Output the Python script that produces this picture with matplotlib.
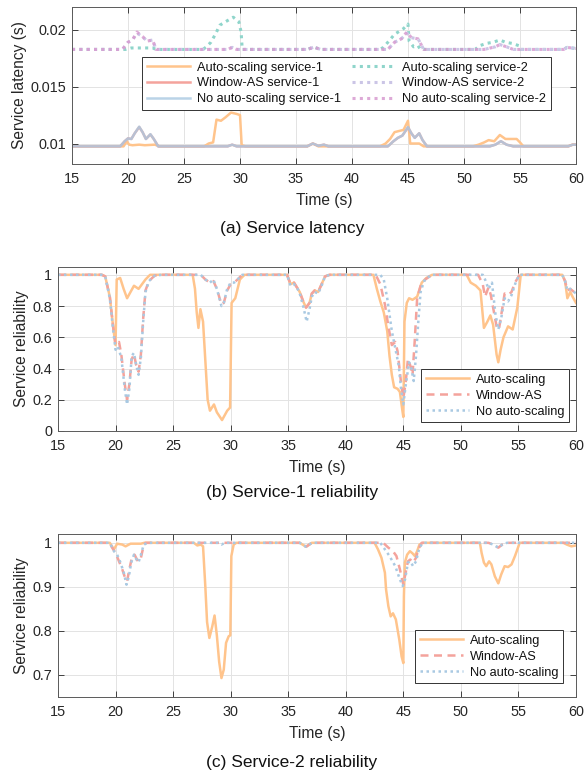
import matplotlib
matplotlib.use("Agg")
import matplotlib.pyplot as plt

plt.rcParams["font.family"] = ["Liberation Sans", "DejaVu Sans"]

# ---- (a) service latency --------------------------------------------------
lat1_auto_t = [15, 19.6, 19.9, 20.1, 20.4, 21.0, 21.5, 22.4, 22.8,
               26.8, 27.2, 27.6, 27.9, 28.3, 28.7, 29.2, 29.7, 30.0, 30.15, 30.5,
               36.0, 36.5, 37.0,
               42.5, 43.0, 43.4, 43.8, 44.2, 44.6, 45.0, 45.2, 45.6, 46.0, 46.4,
               50.8, 51.3, 51.8, 52.2, 52.7, 53.2, 53.7, 54.0, 54.7, 55.0, 55.3,
               59.3, 59.7, 60]
lat1_auto_v = [0.00975, 0.00975, 0.0102, 0.0099, 0.00985, 0.0099, 0.00985, 0.0099, 0.00975,
               0.00975, 0.0100, 0.0101, 0.0121, 0.0120, 0.0123, 0.01272, 0.0126, 0.0125, 0.00985, 0.00975,
               0.00975, 0.0100, 0.00975,
               0.00975, 0.0100, 0.0104, 0.0110, 0.0111, 0.0112, 0.0120, 0.0100, 0.0100, 0.0100, 0.00975,
               0.00975, 0.0099, 0.0101, 0.0103, 0.0102, 0.01075, 0.0104, 0.0104, 0.0104, 0.0101, 0.00975,
               0.00975, 0.0099, 0.0099]

lat1_win_t = [15, 19.3, 19.7, 20.0, 20.3, 20.6, 21.0, 21.3, 21.6, 22.0, 22.3, 22.7,
              28.9, 29.3, 29.7,
              36.0, 36.5, 37.0, 37.5, 37.9,
              43.2, 43.7, 44.1, 44.5, 45.0, 45.3, 45.6, 46.0, 46.3, 46.7,
              52.3, 52.8, 53.3, 53.8, 54.4,
              59.3, 59.7, 60]
lat1_win_v = [0.00975, 0.00975, 0.0102, 0.01045, 0.0104, 0.0109, 0.01145, 0.0110, 0.0104, 0.0108, 0.0104, 0.00975,
              0.00975, 0.0099, 0.00975,
              0.00975, 0.0100, 0.0098, 0.0099, 0.00975,
              0.00975, 0.0102, 0.0105, 0.0107, 0.01142, 0.0109, 0.0105, 0.0109, 0.0103, 0.00975,
              0.00975, 0.0099, 0.0102, 0.0099, 0.00975,
              0.00975, 0.0099, 0.0099]

lat1_noas_t = [15, 19.3, 19.7, 20.0, 20.3, 20.6, 21.0, 21.3, 21.6, 22.0, 22.3, 22.7,
               28.9, 29.3, 29.7,
               36.0, 36.5, 37.0, 37.5, 37.9,
               43.2, 43.7, 44.1, 44.5, 45.0, 45.3, 45.6, 46.0, 46.3, 46.7,
               52.3, 52.8, 53.3, 53.8, 54.4,
               59.3, 59.7, 60]
lat1_noas_v = [0.00975, 0.00975, 0.0102, 0.01045, 0.0104, 0.0109, 0.01148, 0.0110, 0.0104, 0.01082, 0.0104, 0.00975,
               0.00975, 0.0099, 0.00975,
               0.00975, 0.0100, 0.0098, 0.0099, 0.00975,
               0.00975, 0.0102, 0.0105, 0.0107, 0.01145, 0.0109, 0.0105, 0.0109, 0.0103, 0.00975,
               0.00975, 0.0099, 0.0102, 0.0099, 0.00975,
               0.00975, 0.0099, 0.0099]

lat2_auto_t = [15, 19.8, 20.3, 21.5, 22.2, 22.5,
               26.7, 27.0, 27.4, 27.8, 28.2, 28.7, 29.4, 29.9, 30.1, 30.2,
               36.0, 36.6, 37.2,
               42.5, 42.8, 43.2, 43.8, 44.6, 45.0, 45.1, 45.5, 45.9, 46.1,
               51.0, 51.4, 52.0, 52.6, 53.2, 53.7, 54.3, 54.9, 55.1,
               58.9, 59.2, 60]
lat2_auto_v = [0.01827, 0.01827, 0.0184, 0.0184, 0.0184, 0.01827,
               0.01827, 0.0185, 0.0189, 0.0196, 0.0204, 0.0207, 0.0211, 0.0207, 0.0198, 0.01827,
               0.01827, 0.01847, 0.01827,
               0.01827, 0.01845, 0.0189, 0.0196, 0.0201, 0.0205, 0.0190, 0.0185, 0.0186, 0.01827,
               0.01827, 0.0186, 0.0188, 0.0189, 0.0191, 0.0189, 0.0188, 0.0186, 0.01827,
               0.01827, 0.01845, 0.01835]

lat2_win_t = [15, 19.5, 20.0, 20.4, 20.8, 21.3, 21.7, 22.2, 22.5,
              28.9, 29.3, 29.7,
              36.0, 36.6, 37.2,
              43.2, 43.8, 44.4, 44.9, 45.3, 45.9, 46.4,
              51.8, 52.8, 53.2, 53.8, 54.4,
              58.9, 59.2, 60]
lat2_win_v = [0.01827, 0.01827, 0.0189, 0.0191, 0.0197, 0.0194, 0.0190, 0.0191, 0.01827,
              0.01827, 0.01845, 0.01827,
              0.01827, 0.01847, 0.01827,
              0.01827, 0.0189, 0.0192, 0.0197, 0.0193, 0.0192, 0.01827,
              0.01827, 0.0185, 0.0187, 0.0185, 0.01827,
              0.01827, 0.01845, 0.01835]

lat2_noas_t = [15, 19.5, 20.0, 20.4, 20.8, 21.3, 21.7, 22.2, 22.5,
               28.9, 29.3, 29.7,
               36.0, 36.6, 37.2,
               43.2, 43.8, 44.4, 44.9, 45.3, 45.9, 46.4,
               51.8, 52.8, 53.2, 53.8, 54.4,
               58.9, 59.2, 60]
lat2_noas_v = [0.01827, 0.01827, 0.0189, 0.0191, 0.0198, 0.0194, 0.0190, 0.0191, 0.01827,
               0.01827, 0.01845, 0.01827,
               0.01827, 0.01847, 0.01827,
               0.01827, 0.0189, 0.0192, 0.0198, 0.0193, 0.0192, 0.01827,
               0.01827, 0.0185, 0.0187, 0.0185, 0.01827,
               0.01827, 0.01845, 0.01835]

# ---- (b) service-1 reliability --------------------------------------------
rel1_auto_t = [15, 18.8, 19.1, 19.5, 19.8, 20.0, 20.1, 20.4, 20.7, 21.0, 21.3, 21.6, 22.0, 22.3, 22.6, 23.0,
               26.7, 26.9, 27.05, 27.2, 27.37, 27.6, 27.8, 28.0, 28.2, 28.55, 28.8, 29.25, 29.7, 29.95,
               30.08, 30.4, 30.8, 31.2,
               34.9, 35.2, 35.5, 35.75, 36.0, 36.3, 36.55, 36.85, 37.05, 37.3, 37.6, 37.9, 38.2, 38.6,
               42.4, 42.7, 43.0, 43.3, 43.6, 43.8, 44.0, 44.2, 44.5, 44.7, 44.9, 45.0, 45.1, 45.3, 45.5,
               45.8, 46.2, 46.6, 47.0, 47.5,
               50.5, 50.85, 51.3, 51.7, 52.0, 52.3, 52.56, 52.8, 53.1, 53.25, 53.45, 53.7, 54.1, 54.5,
               54.9, 55.2,
               58.8, 59.05, 59.25, 59.5, 59.7, 60]
rel1_auto_v = [1, 1, 0.99, 0.86, 0.66, 0.55, 0.97, 0.98, 0.91, 0.85, 0.89, 0.93, 0.91, 0.94, 0.97, 1,
               1, 0.91, 0.76, 0.66, 0.78, 0.70, 0.45, 0.20, 0.13, 0.17, 0.12, 0.07, 0.13, 0.15,
               0.82, 0.85, 0.97, 1,
               1, 0.94, 0.95, 0.92, 0.89, 0.83, 0.79, 0.82, 0.88, 0.90, 0.89, 0.94, 0.99, 1,
               1, 0.91, 0.83, 0.76, 0.64, 0.48, 0.36, 0.28, 0.27, 0.25, 0.14, 0.09, 0.70, 0.82, 0.85,
               0.84, 0.86, 0.95, 0.98, 1,
               1, 0.95, 0.93, 0.90, 0.66, 0.70, 0.74, 0.68, 0.49, 0.44, 0.52, 0.60, 0.67, 0.65,
               0.79, 1,
               1, 0.96, 0.85, 0.89, 0.86, 0.82]

rel1_win_t = [15, 18.8, 19.1, 19.5, 19.8, 20.0, 20.3, 20.5, 20.8, 21.0, 21.2, 21.4, 21.6, 21.8, 22.0, 22.2,
              22.4, 22.6, 22.9, 23.4, 24.0,
              27.4, 27.8, 28.2, 28.5, 28.8, 29.2, 29.4, 29.7, 30.0, 30.3, 30.6, 31.0,
              34.9, 35.2, 35.5, 35.75, 36.0, 36.3, 36.55, 36.85, 37.05, 37.3, 37.6, 37.9, 38.2, 38.6,
              42.6, 43.0, 43.4, 43.7, 44.0, 44.3, 44.5, 44.8, 45.0, 45.2, 45.4, 45.6, 45.8, 46.0, 46.2,
              46.5, 46.9, 47.5,
              51.5, 51.9, 52.1, 52.4, 52.6, 52.8, 53.1, 53.3, 53.5, 53.8, 54.1, 54.4, 54.7, 55.1,
              58.8, 59.05, 59.25, 59.5, 60]
rel1_win_v = [1, 1, 0.99, 0.86, 0.66, 0.55, 0.57, 0.49, 0.30, 0.20, 0.30, 0.46, 0.49, 0.42, 0.38, 0.49,
              0.72, 0.90, 0.96, 0.995, 1,
              1, 0.97, 0.95, 0.96, 0.91, 0.81, 0.82, 0.90, 0.94, 0.95, 0.97, 1,
              1, 0.94, 0.95, 0.92, 0.89, 0.83, 0.79, 0.82, 0.88, 0.90, 0.89, 0.94, 0.99, 1,
              1, 0.94, 0.81, 0.67, 0.55, 0.57, 0.51, 0.31, 0.21, 0.31, 0.46, 0.42, 0.36, 0.59, 0.85,
              0.93, 0.97, 1,
              1, 0.94, 0.86, 0.92, 0.87, 0.79, 0.67, 0.65, 0.74, 0.88, 0.87, 0.89, 0.95, 1,
              1, 0.96, 0.90, 0.91, 0.88]

rel1_noas_t = [15, 18.8, 19.1, 19.5, 19.8, 20.0, 20.2, 20.5, 20.8, 21.0, 21.2, 21.4, 21.6, 21.8, 22.0, 22.2,
               22.4, 22.6, 22.9, 23.4, 24.0,
               27.4, 27.8, 28.2, 28.5, 28.8, 29.2, 29.4, 29.7, 30.0, 30.3, 30.6, 31.0,
               34.9, 35.2, 35.5, 35.75, 36.0, 36.3, 36.6, 36.85, 37.05, 37.3, 37.6, 37.9, 38.2, 38.6,
               43.0, 43.3, 43.6, 44.0, 44.3, 44.6, 44.8, 45.0, 45.2, 45.5, 45.7, 45.9, 46.1, 46.3, 46.5,
               46.8, 47.4,
               51.9, 52.1, 52.4, 52.7, 53.0, 53.25, 53.5, 53.8, 54.1, 54.4, 54.8, 55.1,
               58.8, 59.05, 59.25, 59.5, 60]
rel1_noas_v = [1, 1, 0.99, 0.85, 0.64, 0.52, 0.54, 0.47, 0.27, 0.17, 0.27, 0.48, 0.50, 0.42, 0.36, 0.47,
               0.70, 0.89, 0.96, 0.995, 1,
               1, 0.97, 0.95, 0.97, 0.91, 0.80, 0.82, 0.91, 0.95, 0.95, 0.97, 1,
               1, 0.93, 0.94, 0.92, 0.88, 0.80, 0.70, 0.78, 0.86, 0.89, 0.88, 0.93, 0.99, 1,
               1, 0.97, 0.85, 0.64, 0.53, 0.42, 0.27, 0.17, 0.29, 0.44, 0.40, 0.32, 0.48, 0.70, 0.89,
               0.96, 1,
               1, 0.97, 0.91, 0.95, 0.75, 0.65, 0.72, 0.85, 0.83, 0.87, 0.96, 1,
               1, 0.96, 0.90, 0.91, 0.88]

# ---- (c) service-2 reliability --------------------------------------------
rel2_auto_t = [15, 19.5, 19.86, 20.14, 20.58, 20.87, 21.3, 22.2, 22.5,
               26.8, 27.1, 27.4, 27.6, 27.8, 27.95, 28.15, 28.4, 28.6, 28.8, 29.0, 29.2, 29.4, 29.6,
               29.83, 29.97, 30.06, 30.26, 30.5,
               36.0, 36.55, 37.05,
               42.5, 42.8, 43.1, 43.4, 43.5, 43.7, 43.9, 44.1, 44.35, 44.65, 44.85, 45.0, 45.05, 45.13,
               45.33, 45.57, 45.8, 46.0, 46.2, 46.4, 46.7,
               51.65, 51.8, 52.0, 52.2, 52.45, 52.65, 52.95, 53.25, 53.5, 53.8, 54.1, 54.4, 54.7, 55.0, 55.1,
               58.9, 59.2, 59.6, 60]
rel2_auto_v = [1, 1, 0.985, 0.998, 0.996, 0.992, 0.998, 0.998, 1,
               1, 0.994, 0.996, 0.992, 0.90, 0.82, 0.784, 0.81, 0.835, 0.79, 0.73, 0.693, 0.712, 0.773,
               0.788, 0.79, 0.97, 0.996, 1,
               1, 0.991, 1,
               1, 0.985, 0.966, 0.932, 0.894, 0.856, 0.833, 0.84, 0.826, 0.78, 0.742, 0.727, 0.879, 0.955,
               0.973, 0.981, 0.976, 0.97, 0.981, 0.996, 1,
               1, 0.977, 0.955, 0.947, 0.958, 0.951, 0.924, 0.908, 0.928, 0.947, 0.945, 0.951, 0.97, 0.992, 1,
               1, 0.996, 0.992, 0.994]

rel2_win_t = [15, 19.5, 19.7, 20.0, 20.3, 20.58, 20.87, 21.0, 21.2, 21.45, 21.65, 21.94, 22.17, 22.4, 22.6,
              36.0, 36.55, 37.05,
              43.25, 43.7, 44.1, 44.4, 44.7, 45.0, 45.2, 45.4, 45.6, 45.85, 46.1, 46.3, 46.6,
              52.4, 52.8, 53.25, 53.6, 54.0,
              60]
rel2_win_v = [1, 1, 0.989, 0.977, 0.958, 0.94, 0.917, 0.913, 0.94, 0.97, 0.973, 0.958, 0.962, 0.989, 1,
              1, 0.991, 1,
              1, 0.989, 0.981, 0.97, 0.94, 0.905, 0.932, 0.958, 0.962, 0.955, 0.966, 0.985, 1,
              1, 0.996, 0.989, 0.996, 1,
              1]

rel2_noas_t = [15, 19.5, 19.86, 20.14, 20.43, 20.72, 20.95, 21.16, 21.36, 21.6, 21.82, 22.0, 22.2, 22.45, 22.8,
               28.9, 29.2, 29.5,
               36.0, 36.55, 37.05,
               43.0, 43.4, 43.8, 44.3, 44.7, 44.95, 45.15, 45.4, 45.6, 45.85, 46.1, 46.4, 46.7,
               52.4, 52.8, 53.25, 53.6, 54.0,
               60]
rel2_noas_v = [1, 1, 0.981, 0.973, 0.955, 0.932, 0.905, 0.924, 0.955, 0.973, 0.962, 0.956, 0.973, 0.996, 1,
               1, 0.996, 1,
               1, 0.991, 1,
               1, 0.985, 0.97, 0.947, 0.917, 0.902, 0.917, 0.955, 0.958, 0.947, 0.958, 0.989, 1,
               1, 0.996, 0.989, 0.996, 1,
               1]

X_TICKS = [15, 20, 25, 30, 35, 40, 45, 50, 55, 60]

C_AUTO = "#FFC48C"
C_WIN = "#F4A39C"
C_NOAS = "#A9C9E2"
C_AUTO2 = "#8FD5CB"
C_WIN2 = "#CBC5E6"
C_NOAS2 = "#D79BD0"
DARK = "#262626"
GRID = "#E3E3E3"

DOT = (0, (1.0, 1.4))
DASH = (0, (3.2, 2.2))


def style(ax, yticks, ylim, ylabel):
    ax.set_xlim(15, 60)
    ax.set_ylim(*ylim)
    ax.set_xticks(X_TICKS)
    ax.set_yticks(yticks)
    ax.grid(True, color=GRID, linewidth=0.7)
    ax.set_axisbelow(True)
    ax.tick_params(direction="in", top=True, right=True, length=4,
                   width=0.6, colors=DARK, labelsize=10.4)
    ax.tick_params(axis="x", pad=6)
    ax.tick_params(axis="y", pad=4)
    for s in ax.spines.values():
        s.set_color("#5a5a5a")
        s.set_linewidth(0.7)
    ax.set_xlabel("Time (s)", fontsize=11.2, color=DARK, labelpad=5)
    ax.set_ylabel(ylabel, fontsize=11.2, color=DARK, labelpad=3)


def legend(ax, **kw):
    leg = ax.legend(fontsize=9.2, handlelength=3.4, handletextpad=0.5,
                    labelspacing=0.3, borderpad=0.35, fancybox=False,
                    framealpha=1, edgecolor="#333333", **kw)
    leg.get_frame().set_linewidth(0.7)
    for txt in leg.get_texts():
        txt.set_color("#111111")
    return leg


fig = plt.figure(figsize=(5.84, 7.75), dpi=100)

# (a)
ax = fig.add_axes([72 / 584, 1 - 164 / 775, 504 / 584, 157 / 775])
ax.plot(lat1_auto_t, lat1_auto_v, color=C_AUTO, lw=1.8, label="Auto-scaling service-1")
ax.plot(lat1_win_t, lat1_win_v, color=C_WIN, lw=1.8, label="Window-AS service-1")
ax.plot(lat1_noas_t, lat1_noas_v, color=C_NOAS, lw=1.8, alpha=0.8, label="No auto-scaling service-1")
ax.plot(lat2_auto_t, lat2_auto_v, color=C_AUTO2, lw=2.2, ls=DOT, label="Auto-scaling service-2")
ax.plot(lat2_win_t, lat2_win_v, color=C_WIN2, lw=2.2, ls=DOT, label="Window-AS service-2")
ax.plot(lat2_noas_t, lat2_noas_v, color=C_NOAS2, lw=2.2, ls=DOT, alpha=0.85, label="No auto-scaling service-2")
style(ax, [0.01, 0.015, 0.02], (0.0082, 0.022), "Service latency (s)")
ax.set_yticklabels(["0.01", "0.015", "0.02"])
legend(ax, ncol=2, loc="upper left", bbox_to_anchor=(0.127, 0.722), columnspacing=0.9)
fig.text(0.5, 1 - 228 / 775, "(a) Service latency", ha="center", va="center", fontsize=12.5, color="#111111")

# (b)
ax = fig.add_axes([58 / 584, 1 - 431 / 775, 518 / 584, 164 / 775])
ax.plot(rel1_auto_t, rel1_auto_v, color=C_AUTO, lw=1.8, label="Auto-scaling")
ax.plot(rel1_win_t, rel1_win_v, color=C_WIN, lw=1.8, ls=DASH, label="Window-AS")
ax.plot(rel1_noas_t, rel1_noas_v, color=C_NOAS, lw=1.8, ls=DOT, label="No auto-scaling")
style(ax, [0, 0.2, 0.4, 0.6, 0.8, 1], (0, 1.05), "Service reliability")
ax.set_yticklabels(["0", "0.2", "0.4", "0.6", "0.8", "1"])
legend(ax, loc="lower right", bbox_to_anchor=(0.986, 0.055), borderaxespad=0)
fig.text(0.5, 1 - 492 / 775, "(b) Service-1 reliability", ha="center", va="center", fontsize=12.5, color="#111111")

# (c)
ax = fig.add_axes([58 / 584, 1 - 697 / 775, 518 / 584, 163 / 775])
ax.plot(rel2_auto_t, rel2_auto_v, color=C_AUTO, lw=1.8, label="Auto-scaling")
ax.plot(rel2_win_t, rel2_win_v, color=C_WIN, lw=1.8, ls=DASH, label="Window-AS")
ax.plot(rel2_noas_t, rel2_noas_v, color=C_NOAS, lw=1.8, ls=DOT, label="No auto-scaling")
style(ax, [0.7, 0.8, 0.9, 1], (0.65, 1.02), "Service reliability")
ax.set_yticklabels(["0.7", "0.8", "0.9", "1"])
legend(ax, loc="lower right", bbox_to_anchor=(0.974, 0.086), borderaxespad=0)
fig.text(0.5, 1 - 762 / 775, "(c) Service-2 reliability", ha="center", va="center", fontsize=12.5, color="#111111")

fig.savefig("out.png", dpi=100)
